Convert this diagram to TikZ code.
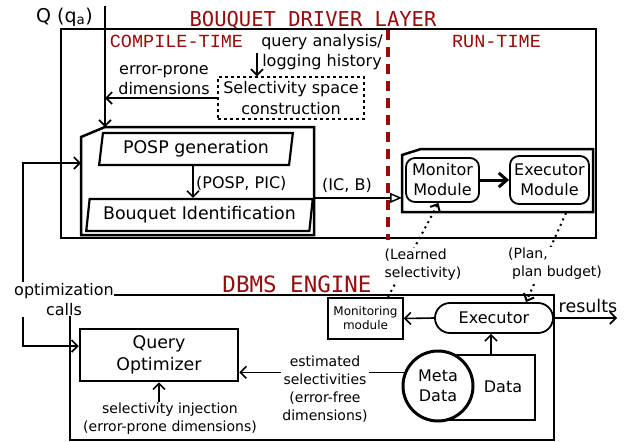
\documentclass[tikz,border=0pt]{standalone}
\usepackage{fontspec}
\setmainfont{DejaVu Sans}
\newfontfamily\monoA{DejaVu Sans Mono}
\newfontfamily\monoB{Liberation Mono}
\usetikzlibrary{arrows.meta,shapes.geometric,shapes.misc,calc}
\definecolor{dred}{RGB}{150,12,12}
\begin{document}
\begin{tikzpicture}[x=1pt,y=-1pt,
  txt/.style={font=\fontsize{16}{20.5}\selectfont, align=center, inner sep=1pt},
  stxt/.style={font=\fontsize{14}{18}\selectfont, align=center, inner sep=1pt},
  btxt/.style={font=\fontsize{17.4}{22}\selectfont, align=center, inner sep=0pt},
  heavy/.style={line width=2.5pt},
  arr/.style={line width=1.6pt, -{Straight Barb[length=6pt,width=12pt]}},
  dotarr/.style={line width=2pt, dash pattern=on 2pt off 4pt, -{Straight Barb[length=6pt,width=11pt]}},
  titlefont/.style={font=\monoA\fontsize{20.5}{24}\selectfont, text=dred, inner sep=0pt},
  subfont/.style={font=\monoB\fontsize{18.5}{22}\selectfont, text=dred, inner sep=0pt},
  para/.style={draw, line width=2.2pt, shape=trapezium, trapezium left angle=80, trapezium right angle=100, trapezium stretches=true, inner sep=0pt},
  rbox/.style={draw, line width=1.8pt, rounded corners=9pt, inner sep=0pt, font=\fontsize{16}{20}\selectfont, align=center}
]
\useasboundingbox (0,0) rectangle (641,442);

% ---------- Bouquet driver layer ----------
\draw[heavy] (61,29) rectangle (596,238);
\node[titlefont, anchor=base] (bdl) at (313,26) {BOUQUET DRIVER LAYER};
\node[subfont, anchor=base] (ct) at (176.5,47) {COMPILE-TIME};
\node[subfont, anchor=base] (rt) at (496.5,47) {RUN-TIME};

\node[font=\fontsize{19}{22}\selectfont, anchor=base west, inner sep=0pt] (q) at (36,22) {Q (q\textsubscript{a})};
\coordinate (qtop) at (105,6);
\coordinate (qin) at (105,127);
\draw[arr] (qtop) -- (qin);

\node[txt] (qa) at (322,52) {query analysis/\\logging history};
\coordinate (qastart) at (257,53);
\node[draw, line width=1.5pt, dash pattern=on 3pt off 3pt, minimum width=146, minimum height=42, txt] (sel) at (291,98) {Selectivity space\\construction};
\draw[arr] (qastart) -- (qastart |- sel.north);

\node[txt] (ep) at (164,80) {error-prone\\dimensions};
\draw[arr] (sel.west) -- (sel.west -| qin);

% compile-time container
\draw[heavy] (81,137) -- (qin) -- (314,127) -- (314,235) -- (81,235) -- cycle;
\node[para, btxt, minimum width=194, minimum height=32] (posp) at (196,149) {POSP generation};
\node[para, btxt, minimum width=227, minimum height=32] (bouq) at (199.5,215) {Bouquet Identification};
\draw[arr] ([xshift=-3pt]posp.south) -- ([xshift=-3pt]posp.south |- bouq.north);
\node[txt, anchor=west] (pp) at (195,183) {(POSP, PIC)};

% run-time container
\coordinate (rtin) at (402,200);
\draw[heavy] (402,155) -- (421,149) -- (593,149) -- (593,212) -- (402,212) -- cycle;
\node[rbox, minimum width=73, minimum height=44] (mon) at (442.5,180) {Monitor\\Module};
\node[rbox, minimum width=79, minimum height=48] (exm) at (549.5,180) {Executor\\Module};
\draw[line width=3pt, -{Straight Barb[length=8pt,width=14pt]}] (mon.east) -- (exm.west);

\draw[line width=1.5pt, -{Triangle[open,length=12pt,width=10pt]}] (bouq.top right corner) -- (rtin |- bouq.top right corner);
\node[txt] (icb) at (347,185) {(IC, B)};

% red separator
\coordinate (sepT) at (388,30);
\coordinate (sepB) at (388,240);
\draw[dred, line width=3.5pt, dash pattern=on 10pt off 7pt] (sepT) -- (sepB);

% ---------- DBMS engine ----------
\draw[heavy] (70,295) rectangle (554,440);
\node[titlefont, font=\monoA\fontsize{22.5}{26}\selectfont, anchor=base] (dbms) at (297,292) {DBMS ENGINE};

\node[draw, line width=1.5pt, minimum width=75, minimum height=41, inner sep=0pt, align=center, font=\fontsize{12}{14}\selectfont] (mm) at (365.5,318.5) {Monitoring\\module};
\node[draw, line width=1.8pt, shape=rounded rectangle, minimum width=118, minimum height=30, inner sep=0pt, font=\fontsize{16}{20}\selectfont] (ex) at (494,318) {Executor};
\draw[arr] (ex.west) -- (mm.east);
\coordinate (res) at (617,318);
\draw[arr] (ex.east) -- (res);
\node[font=\fontsize{17.5}{21}\selectfont, inner sep=0pt] (restxt) at (588,306) {results};

\node[draw, line width=1.5pt, minimum width=97, minimum height=65, inner sep=0pt] (data) at (486.5,387.5) {};
\node[font=\fontsize{16}{20}\selectfont, inner sep=0pt] (dtxt) at (503,387) {Data};
\node[draw, circle, line width=3pt, fill=white, minimum size=70, inner sep=0pt, align=center, font=\fontsize{16}{20}\selectfont] (md) at (438,386) {Meta\\Data};
\draw[arr] ([xshift=4.5pt]data.north) -- ([xshift=4.5pt]data.north |- ex.south);

\node[draw, line width=2.5pt, minimum width=158, minimum height=52, btxt] (qo) at (159,355) {Query\\Optimizer};
\draw[arr] (md.158) -- (qo.east |- md.158);
\node[stxt, fill=white] (est) at (325,389) {estimated\\selectivities\\(error-free\\dimensions)};

\node[stxt] (si) at (170,419) {selectivity injection\\(error-prone dimensions)};
\draw[arr] (si.north -| qo.south) -- (qo.south);

% optimization calls feedback
\node[txt, fill=white, inner sep=0.5pt] (oc) at (64,299.5) {optimization\\calls};
\coordinate (fbt) at (23,163);
\coordinate (pin) at (81,163);
\coordinate (fbb) at (23,346);
\draw[arr] (oc.north -| fbt) -- (fbt) -- (pin);
\draw[arr] (oc.south -| fbb) -- (fbb) -- (qo.west |- fbb);

% dotted feedback between layers
\coordinate (mmtop) at (388,297);
\coordinate (rtbot) at (566,213);
\draw[dotarr] (mmtop) -- ([xshift=-4pt]mon.south);
\draw[dotarr] (rtbot) -- ([xshift=32pt]ex.north);
\node[stxt, fill=white, align=left] (ls) at (423,265) {(Learned\\selectivity)};
\node[stxt, fill=white, align=left] (pl) at (555,264) {(Plan,\\\hspace{4pt}plan budget)};
\end{tikzpicture}
\end{document}
